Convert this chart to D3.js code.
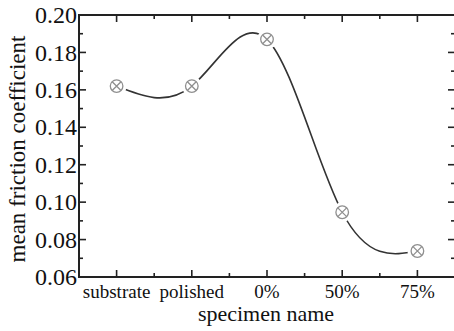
<!DOCTYPE html>
<meta charset="utf-8">
<style>
    body { margin: 0; background: #fff; }
    text { font-family: "Liberation Serif", "Times New Roman", serif; fill: #111; }
    .frame { fill: none; stroke: #222; stroke-width: 2; }
    .tick-line { stroke: #222; stroke-width: 1.6; }
    .curve { fill: none; stroke: #333; stroke-width: 1.6; }
    .marker { fill: none; stroke: #8f8f8f; stroke-width: 1.3; }
</style>
<svg width="454" height="331"></svg>
<script src="https://d3js.org/d3.v7.min.js"></script>
<script>
var specimens = ["substrate", "polished", "0%", "50%", "75%"];
var friction = [0.162, 0.162, 0.187, 0.0946, 0.0739];
var yTicks = [0.06, 0.08, 0.10, 0.12, 0.14, 0.16, 0.18, 0.20];

var pL = 79, pR = 455, pT = 15, pB = 277;
var svg = d3.select("svg");

var x = d3.scaleLinear().domain([0.5, 5.5]).range([pL, pR]);
var y = d3.scaleLinear().domain([0.06, 0.20]).range([pB, pT]);

// ticks (inward) on all four sides
var g = svg.append("g");
var xMajor = d3.range(1, 6), xMinor = d3.range(1.5, 5.5, 1);
xMajor.forEach(function(v) {
    g.append("line").attr("class", "tick-line").attr("x1", x(v)).attr("x2", x(v)).attr("y1", pB).attr("y2", pB - 7);
    g.append("line").attr("class", "tick-line").attr("x1", x(v)).attr("x2", x(v)).attr("y1", pT).attr("y2", pT + 7);
});
xMinor.forEach(function(v) {
    g.append("line").attr("class", "tick-line").attr("x1", x(v)).attr("x2", x(v)).attr("y1", pB).attr("y2", pB - 4);
    g.append("line").attr("class", "tick-line").attr("x1", x(v)).attr("x2", x(v)).attr("y1", pT).attr("y2", pT + 4);
});
d3.range(0.06, 0.2001, 0.01).forEach(function(v, i) {
    var len = i % 2 === 0 ? 7 : 4;
    g.append("line").attr("class", "tick-line").attr("x1", pL).attr("x2", pL + len).attr("y1", y(v)).attr("y2", y(v));
    g.append("line").attr("class", "tick-line").attr("x1", pR).attr("x2", pR - len).attr("y1", y(v)).attr("y2", y(v));
});

svg.append("rect").attr("class", "frame")
    .attr("x", pL).attr("y", pT).attr("width", pR - pL).attr("height", pB - pT);

// tick labels
svg.selectAll(".ylab").data(yTicks).enter().append("text")
    .attr("x", pL - 2).attr("y", function(d) { return y(d); })
    .attr("dy", "0.34em").attr("text-anchor", "end")
    .style("font-size", "24px")
    .text(function(d) { return d.toFixed(2); });

svg.selectAll(".xlab").data(specimens).enter().append("text")
    .attr("x", function(d, i) { return x(i + 1); }).attr("y", 298)
    .attr("text-anchor", "middle")
    .style("font-size", "19px")
    .text(function(d) { return d; });

svg.append("text").attr("x", 266).attr("y", 321).attr("text-anchor", "middle")
    .style("font-size", "22px").text("specimen name");

svg.append("text").attr("transform", "translate(25,149) rotate(-90)")
    .attr("text-anchor", "middle").style("font-size", "23px")
    .text("mean friction coefficient");

// spline
var pts = friction.map(function(v, i) { return [x(i + 1), y(v)]; });
svg.append("path").attr("class", "curve")
    .attr("d", d3.line().curve(d3.curveNatural)(pts));

// gaps around markers
svg.selectAll(".gap").data(pts).enter().append("circle")
    .attr("cx", function(d) { return d[0]; }).attr("cy", function(d) { return d[1]; })
    .attr("r", 10).attr("fill", "#fff");

var m = svg.selectAll(".mk").data(pts).enter().append("g").attr("class", "marker")
    .attr("transform", function(d) { return "translate(" + d[0] + "," + d[1] + ")"; });
m.append("circle").attr("r", 6.3);
m.append("path").attr("d", "M-4.4,-4.4L4.4,4.4M-4.4,4.4L4.4,-4.4");
</script>
